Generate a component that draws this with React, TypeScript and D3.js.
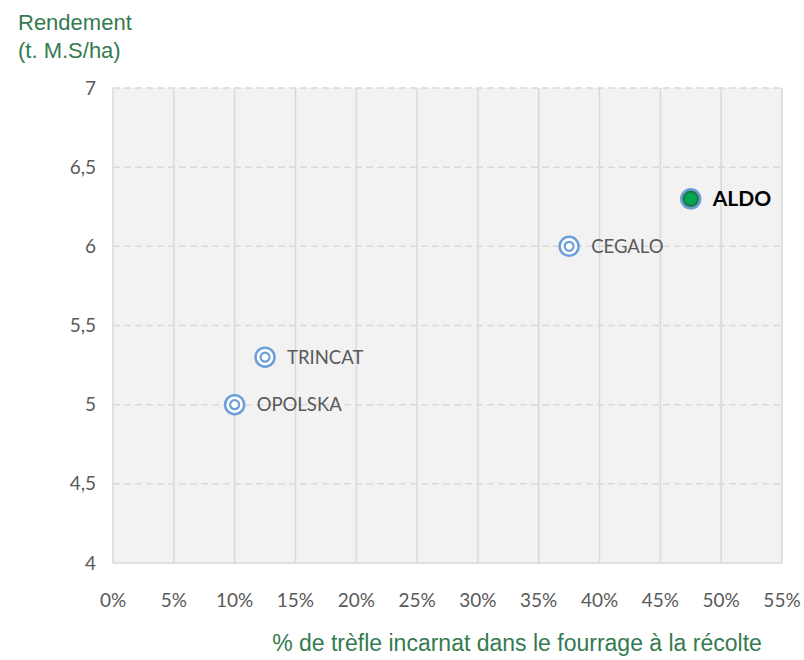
import React from "react";
import * as d3 from "d3";

// Variétés de trèfle incarnat
const varieties = ["OPOLSKA", "TRINCAT", "CEGALO", "ALDO"];
const cloverShare = [0.1, 0.125, 0.375, 0.475];
const yieldValues = [5.0, 5.3, 6.0, 6.3];
const highlighted = ["ALDO"];

const xTicks = [0, 0.05, 0.1, 0.15, 0.2, 0.25, 0.3, 0.35, 0.4, 0.45, 0.5, 0.55];
const yTicks = [4, 4.5, 5, 5.5, 6, 6.5, 7];

const width = 804;
const height = 660;
const margin = { top: 88, right: 22, bottom: 97, left: 113 };

const tickFont = "Lato, 'Open Sans', sans-serif";
const titleFont = "'Liberation Sans', Arial, sans-serif";

const App = () => {
  const x = d3
    .scaleLinear()
    .domain([0, 0.55])
    .range([margin.left, width - margin.right]);
  const y = d3
    .scaleLinear()
    .domain([4, 7])
    .range([height - margin.bottom, margin.top]);

  const fmtPct = d3.format(".0%");
  const fmtY = (v: number) => String(v).replace(".", ",");

  const points = varieties.map((name, i) => ({
    name,
    x: cloverShare[i],
    y: yieldValues[i],
  }));

  return (
    <svg
      width={width}
      height={height}
      style={{ position: "absolute", left: 0, top: 0, background: "#fff" }}
    >
      {/* plot area */}
      <rect
        x={x(0)}
        y={y(7)}
        width={x(0.55) - x(0)}
        height={y(4) - y(7)}
        fill="#f2f2f2"
      />
      {xTicks.map((t) => (
        <line
          key={"vx" + t}
          x1={x(t)}
          x2={x(t)}
          y1={y(7)}
          y2={y(4)}
          stroke="#d9d9d9"
          strokeWidth={1.5}
        />
      ))}
      {yTicks.map((t) => (
        <line
          key={"hy" + t}
          x1={x(0)}
          x2={x(0.55)}
          y1={y(t)}
          y2={y(t)}
          stroke="#d9d9d9"
          strokeWidth={1.5}
          strokeDasharray={t === 4 ? undefined : "7 4"}
        />
      ))}

      {/* tick labels */}
      {xTicks.map((t) => (
        <text
          key={"tx" + t}
          x={x(t)}
          y={y(4) + 44}
          textAnchor="middle"
          fontFamily={tickFont}
          fontSize={19}
          fill="#595959"
        >
          {fmtPct(t)}
        </text>
      ))}
      {yTicks.map((t) => (
        <text
          key={"ty" + t}
          x={x(0) - 17}
          y={y(t)}
          dy="0.35em"
          textAnchor="end"
          fontFamily={tickFont}
          fontSize={19}
          fill="#595959"
        >
          {fmtY(t)}
        </text>
      ))}

      {/* points */}
      {points.map((d) => {
        const hl = highlighted.includes(d.name);
        return (
          <g key={d.name} transform={`translate(${x(d.x)},${y(d.y)})`}>
            <circle
              r={9.5}
              fill={hl ? "#1f7a45" : "#ffffff"}
              stroke="#6b9fd8"
              strokeWidth={2.5}
            />
            {hl ? (
              <circle r={6} fill="#00a651" />
            ) : (
              <circle r={4.5} fill="none" stroke="#6b9fd8" strokeWidth={2.2} />
            )}
            <text
              x={22}
              dy="0.36em"
              fontFamily={tickFont}
              fontSize={hl ? 21 : 18.5}
              fontWeight={hl ? 700 : 400}
              fill={hl ? "#000000" : "#595959"}
            >
              {d.name}
            </text>
          </g>
        );
      })}

      {/* axis titles */}
      <text
        x={18}
        y={30}
        fontFamily={titleFont}
        fontSize={22}
        fill="#357a50"
      >
        Rendement
      </text>
      <text
        x={18}
        y={58}
        fontFamily={titleFont}
        fontSize={22}
        fill="#357a50"
      >
        (t. M.S/ha)
      </text>
      <text
        x={517}
        y={651}
        textAnchor="middle"
        fontFamily={titleFont}
        fontSize={23}
        fill="#357a50"
      >
        % de trèfle incarnat dans le fourrage à la récolte
      </text>
    </svg>
  );
};

export default App;
